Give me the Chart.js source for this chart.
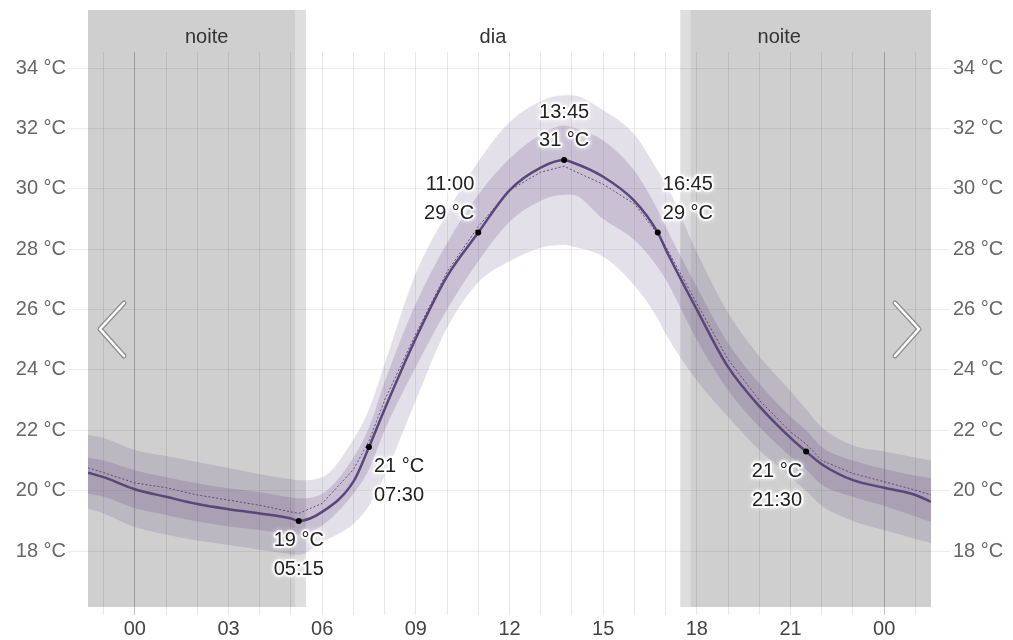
<!DOCTYPE html>
<html>
<head>
<meta charset="utf-8">
<script src="https://cdn.jsdelivr.net/npm/chart.js@4"></script>
<style>
  html, body { margin: 0; padding: 0; background: #fff; }
</style>
</head>
<body>
<canvas id="tempChart" width="1013" height="640"></canvas>
<script>
// hours of the day (negative = previous evening, >24 = next night)
var hours = [-1.5, -1, 0, 1, 2, 3, 4, 5, 5.25, 6, 7, 7.5, 8, 9, 10, 11, 12, 13, 13.75, 14,
  15, 16, 16.75, 17, 18, 19, 20, 21, 21.5, 22, 23, 24, 25, 25.5];
var tempMean = [20.6, 20.45, 20.05, 19.8, 19.56, 19.39, 19.25, 19.08, 19.0, 19.3, 20.3, 21.45,
  22.7, 25.05, 27.1, 28.55, 29.95, 30.7, 30.95, 30.88, 30.4, 29.6, 28.55, 28.0, 26.0, 24.1,
  22.8, 21.75, 21.3, 20.88, 20.35, 20.1, 19.86, 19.63];
var tempDotted = [20.76, 20.6, 20.26, 20.1, 19.86, 19.69, 19.52, 19.3, 19.25, 19.58, 20.7,
  21.65, 23.0, 25.2, 27.25, 28.75, 29.95, 30.55, 30.75, 30.62, 30.15, 29.5, 28.5, 28.1, 26.2,
  24.35, 23.0, 21.95, 21.55, 21.0, 20.57, 20.3, 20.02, 19.86];
var outerLo = [19.4, 19.25, 18.8, 18.55, 18.35, 18.2, 18.05, 17.9, 17.87, 18.3, 18.9, 19.5,
  20.5, 23.0, 25.4, 26.9, 27.6, 28.05, 28.15, 28.1, 27.75, 26.8, 25.7, 25.2, 23.65, 22.45,
  21.35, 20.45, 20.0, 19.5, 19.0, 18.7, 18.4, 18.27];
var outerHi = [21.85, 21.75, 21.35, 21.15, 20.95, 20.75, 20.55, 20.38, 20.35, 20.45, 21.7,
  22.7, 24.2, 27.2, 29.2, 30.9, 32.2, 32.9, 33.1, 33.1, 32.6, 31.8, 30.6, 30.2, 27.9, 25.9,
  24.45, 23.3, 22.7, 22.1, 21.5, 21.3, 21.1, 21.0];
var innerLo = [19.9, 19.8, 19.42, 19.2, 18.98, 18.82, 18.7, 18.55, 18.53, 18.85, 19.9, 20.7,
  22.0, 24.1, 26.0, 27.6, 28.9, 29.6, 29.8, 29.8, 29.0, 28.3, 27.4, 27.0, 25.0, 23.33, 22.12,
  21.13, 20.7, 20.2, 19.8, 19.5, 19.15, 18.97];
var innerHi = [21.1, 21.0, 20.68, 20.45, 20.25, 20.08, 19.95, 19.78, 19.75, 19.9, 21.1, 22.1,
  23.6, 26.2, 28.2, 29.8, 31.0, 31.8, 32.1, 32.05, 31.6, 30.6, 29.3, 28.75, 26.75, 24.9,
  23.55, 22.45, 22.0, 21.45, 21.0, 20.72, 20.5, 20.42];

// marked points
var markHours = [5.25, 7.5, 11, 13.75, 16.75, 21.5];
var markTemps = [19.0, 21.45, 28.55, 30.95, 28.55, 21.3];
var markPlace = ["below", "right", "upleft", "up", "upright", "left"];

// night / twilight shading
var shadeFrom = [-1.5, 5.13, 17.47, 17.79];
var shadeTo = [5.13, 5.48, 17.79, 25.5];
var shadeColor = ["#cfcfcf", "#dedede", "#dedede", "#cfcfcf"];
var periodNames = ["noite", "dia", "noite"];
var periodCenters = [2.3, 11.47, 20.64];

var xTicks = [-1, 0, 1, 2, 3, 4, 5, 6, 7, 8, 9, 10, 11, 12, 13, 14, 15, 16, 17, 18, 19, 20,
  21, 22, 23, 24, 25];
var yTicks = [18, 20, 22, 24, 26, 28, 30, 32, 34];

var FONT = "'Liberation Sans', Arial, sans-serif";

function pts(arr) {
  return hours.map(function (h, i) { return { x: h, y: arr[i] }; });
}
function pad2(n) {
  return (n < 10 ? "0" : "") + n;
}
function fmtTime(h) {
  var hh = Math.floor(h);
  return pad2(hh) + ":" + pad2(Math.round((h - hh) * 60));
}

var shadePlugin = {
  id: "shade",
  beforeDraw: function (chart) {
    var ctx = chart.ctx, xs = chart.scales.x, area = chart.chartArea;
    ctx.save();
    for (var i = 0; i < shadeFrom.length; i++) {
      var x0 = xs.getPixelForValue(shadeFrom[i]);
      var x1 = xs.getPixelForValue(shadeTo[i]);
      ctx.fillStyle = shadeColor[i];
      ctx.fillRect(x0, 10, x1 - x0, area.bottom - 10);
    }
    ctx.fillStyle = "#333";
    ctx.font = "20px " + FONT;
    ctx.textAlign = "center";
    ctx.textBaseline = "middle";
    for (var j = 0; j < periodNames.length; j++) {
      ctx.fillText(periodNames[j], xs.getPixelForValue(periodCenters[j]), 37);
    }
    ctx.restore();
  }
};

var labelPlugin = {
  id: "marks",
  afterDatasetsDraw: function (chart) {
    var ctx = chart.ctx, xs = chart.scales.x, ys = chart.scales.y;
    ctx.save();
    ctx.font = "20px " + FONT;
    ctx.textBaseline = "middle";
    ctx.lineJoin = "round";
    for (var i = 0; i < markHours.length; i++) {
      var px = xs.getPixelForValue(markHours[i]);
      var py = ys.getPixelForValue(markTemps[i]);
      var tTxt = Math.round(markTemps[i]) + " °C";
      var hTxt = fmtTime(markHours[i]);
      var lines, lx = px, ly, align = "center";
      var p = markPlace[i];
      if (p === "below" || p === "right" || p === "left") {
        lines = [tTxt, hTxt];
        ly = py + 20;
      } else {
        lines = [hTxt, tTxt];
        ly = py - 48;
      }
      if (p === "right" || p === "upright") { align = "left"; lx = px + 5; }
      if (p === "left" || p === "upleft") { align = "right"; lx = px - 4; }
      ctx.textAlign = align;
      for (var k = 0; k < lines.length; k++) {
        var yy = ly + k * 28.5;
        ctx.shadowColor = "rgba(255,255,255,0.9)";
        ctx.shadowBlur = 4;
        ctx.strokeStyle = "rgba(255,255,255,0.85)";
        ctx.lineWidth = 4;
        ctx.strokeText(lines[k], lx, yy);
        ctx.shadowBlur = 0;
        ctx.fillStyle = "#222";
        ctx.fillText(lines[k], lx, yy);
      }
    }
    ctx.restore();
  },
  afterDraw: function (chart) {
    var ctx = chart.ctx, area = chart.chartArea;
    var cy = 329;
    var arrows = [
      [[area.left + 36, cy - 26], [area.left + 12, cy], [area.left + 36, cy + 27]],
      [[area.right - 36, cy - 26], [area.right - 12, cy], [area.right - 36, cy + 27]]
    ];
    ctx.save();
    ctx.lineCap = "round";
    ctx.lineJoin = "round";
    arrows.forEach(function (a) {
      [["#8f8f8f", 5], ["#ffffff", 2.5]].forEach(function (s) {
        ctx.strokeStyle = s[0];
        ctx.lineWidth = s[1];
        ctx.beginPath();
        ctx.moveTo(a[0][0], a[0][1]);
        ctx.lineTo(a[1][0], a[1][1]);
        ctx.lineTo(a[2][0], a[2][1]);
        ctx.stroke();
      });
    });
    ctx.restore();
  }
};

var lineColor = "#5b4679";
var bandOuter = "rgba(93,70,125,0.17)";
var bandInner = "rgba(93,70,125,0.2)";

function yAxis(pos, width, drawGrid) {
  return {
    type: "linear",
    position: pos,
    min: 16.15,
    max: 34.53,
    afterBuildTicks: function (scale) {
      scale.ticks = yTicks.map(function (v) { return { value: v }; });
    },
    afterFit: function (scale) { scale.width = width; },
    border: { display: false },
    grid: {
      drawOnChartArea: drawGrid,
      color: "rgba(0,0,0,0.07)",
      tickLength: pos === "left" ? 20 : 19
    },
    ticks: {
      padding: pos === "left" ? 2 : 3,
      color: "#666",
      font: { size: 20, family: FONT },
      callback: function (v) { return v + " °C"; }
    }
  };
}

new Chart("tempChart", {
  type: "line",
  data: {
    datasets: [
      {
        data: markHours.map(function (h, i) { return { x: h, y: markTemps[i] }; }),
        showLine: false,
        pointRadius: 3,
        pointBackgroundColor: "#000",
        pointBorderWidth: 0
      },
      {
        data: pts(tempMean),
        borderColor: lineColor,
        borderWidth: 2.5,
        pointRadius: 0,
        cubicInterpolationMode: "monotone"
      },
      {
        data: pts(tempDotted),
        borderColor: "rgba(80,60,110,0.85)",
        borderWidth: 1,
        borderDash: [2, 2],
        pointRadius: 0,
        tension: 0
      },
      {
        data: pts(outerLo),
        borderWidth: 0,
        pointRadius: 0,
        cubicInterpolationMode: "monotone"
      },
      {
        data: pts(outerHi),
        borderWidth: 0,
        pointRadius: 0,
        cubicInterpolationMode: "monotone",
        backgroundColor: bandOuter,
        fill: 3
      },
      {
        data: pts(innerLo),
        borderWidth: 0,
        pointRadius: 0,
        cubicInterpolationMode: "monotone"
      },
      {
        data: pts(innerHi),
        borderWidth: 0,
        pointRadius: 0,
        cubicInterpolationMode: "monotone",
        backgroundColor: bandInner,
        fill: 5
      }
    ]
  },
  options: {
    responsive: false,
    animation: false,
    layout: { padding: { top: 52 } },
    plugins: {
      legend: { display: false },
      tooltip: { enabled: false }
    },
    scales: {
      x: {
        type: "linear",
        min: -1.5,
        max: 25.5,
        afterBuildTicks: function (scale) {
          scale.ticks = xTicks.map(function (v) { return { value: v }; });
        },
        afterFit: function (scale) { scale.height = 33; },
        border: { display: false },
        grid: {
          tickLength: 8,
          color: function (c) {
            return c.tick && c.tick.value % 24 === 0 ? "rgba(0,0,0,0.24)" : "rgba(0,0,0,0.09)";
          }
        },
        ticks: {
          autoSkip: false,
          maxRotation: 0,
          padding: 2,
          color: "#444",
          font: { size: 20, family: FONT },
          callback: function (v) {
            return v % 3 === 0 ? pad2(((v % 24) + 24) % 24) : "";
          }
        }
      },
      y: yAxis("left", 88, true),
      y2: yAxis("right", 82, false)
    }
  },
  plugins: [shadePlugin, labelPlugin]
});
</script>
</body>
</html>
